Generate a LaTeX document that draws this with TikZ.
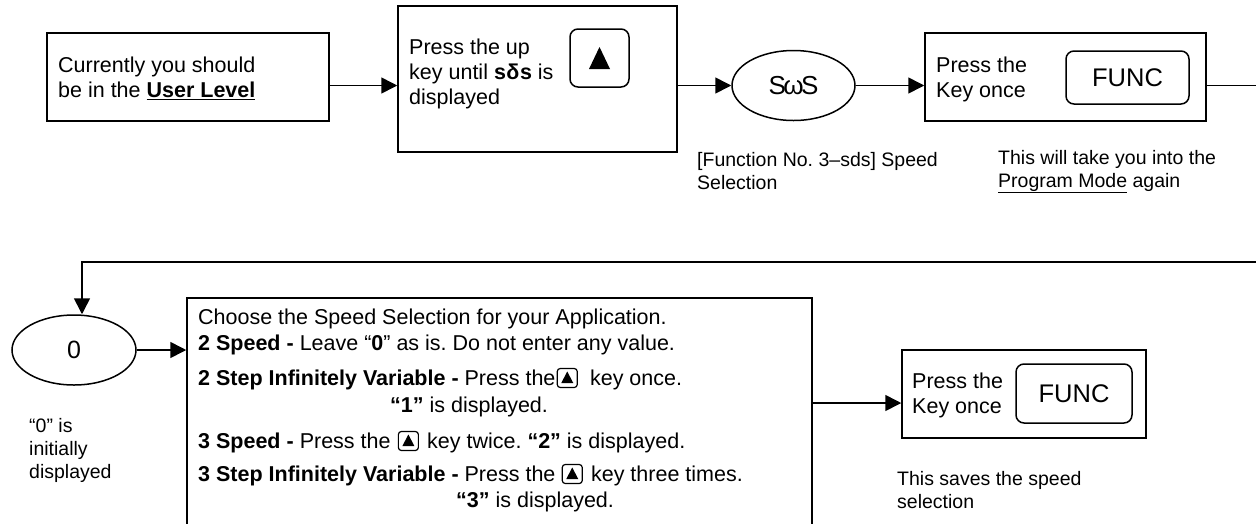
\documentclass[tikz,border=0pt]{standalone}
\usepackage{fontspec}
\setmainfont{Liberation Sans}
\frenchspacing
\usetikzlibrary{arrows.meta,positioning,shapes.geometric}
\tikzset{
  box/.style={draw, line width=1.5pt, inner sep=0pt},
  txt/.style={align=left, inner sep=0pt, font=\fontsize{21.5}{25}\selectfont},
  captxt/.style={align=left, inner sep=0pt, font=\fontsize{19.5}{23}\selectfont},
  oval/.style={draw, ellipse, line width=1.5pt, inner sep=0pt},
  conn/.style={line width=1.6pt},
  arr/.style={conn, -{Triangle[length=16pt,width=16pt]}},
  keybig/.style={draw, line width=1.5pt, rounded corners=8pt, inner sep=0pt},
  keysmall/.style={draw, line width=1.2pt, rounded corners=3pt, minimum width=20pt, minimum height=19pt, inner sep=0pt,
    path picture={\fill[sharp corners] ([shift={(-6,5)}]path picture bounding box.center) -- ([shift={(6,5)}]path picture bounding box.center) -- ([shift={(0,-6.5)}]path picture bounding box.center) -- cycle;}},
}
\begin{document}
\begin{tikzpicture}[x=1pt,y=-1pt]
\useasboundingbox (0,0) rectangle (1256,523);
\clip (0,0) rectangle (1256,523);

% ---------- top row ----------
\node[box, minimum width=282pt, minimum height=88pt] (b1) at (188,77) {};
\node[txt, anchor=west] (t1) at (58,78) {Currently you should\\be in the \underline{\textbf{User Level}}};

\node[box, minimum width=279pt, minimum height=146pt] (b2) at (537.5,79) {};
\node[txt, anchor=west] (t2) at (409,74) {Press the up\\key until \textbf{s\kern0.5ptδ\kern0.5pts} is\\displayed};
\node[keybig, minimum width=59pt, minimum height=58pt] (k0) at (599.5,58) {};
\fill ([shift={(-10.5,11)}]k0.center) -- ([shift={(10.5,11)}]k0.center) -- ([shift={(0,-11)}]k0.center) -- cycle;

\node[oval, minimum width=123pt, minimum height=70pt, font=\fontsize{26}{30}\selectfont] (e1) at (793.5,85.5) {S\kern-2.5ptω\kern-2.5ptS};

\node[box, minimum width=281pt, minimum height=88pt] (b3) at (1065.5,77) {};
\node[txt, anchor=west] (t3) at (936,79) {Press the\\Key once};
\node[keybig, minimum width=123pt, minimum height=53pt, font=\fontsize{25.5}{30}\selectfont] (f1) at (1127.5,77.5) {FUNC};

\node[captxt, anchor=west] (c1) at (697,171.5) {[Function No. 3–sds] Speed\\Selection};
\node[captxt, anchor=west] (c2) at (998,171.5) {This will take you into the\\\underline{Program Mode} again};

\coordinate (rtop) at (1256,0);
\draw[arr] (b1.east |- e1) -- (b2.west |- e1);
\draw[arr] (b2.east |- e1) -- (e1.west);
\draw[arr] (e1.east) -- (b3.west |- e1);
\draw[conn] (b3.east |- e1) -- (e1 -| rtop);

% ---------- bottom row ----------
\coordinate (rbot) at (1256,262);
\coordinate (lcorner) at (82,262);
\node[oval, minimum width=124pt, minimum height=70pt, font=\fontsize{25}{30}\selectfont] (e0) at (74,350) {0};
\draw[arr] (rbot) -- (lcorner) -- (lcorner |- e0.north);

\node[captxt, anchor=west] (c0) at (29,450) {“0” is\\initially\\displayed};

\node[box, minimum width=625pt, minimum height=262pt] (big) at (499.5,429) {};
\draw[arr] (e0.east) -- (big.west |- e0);

\node[txt, anchor=base west] (l1) at (198,324.5) {Choose the Speed Selection for your Application.};
\node[txt, anchor=base west] (l2) at (198,350.5) {\textbf{2 Speed -} Leave “\textbf{0}” as is. Do not enter any value.};
\node[txt, anchor=base west] (l3a) at (198,385.5) {\textbf{2 Step Infinitely Variable -} Press the};
\node[keysmall, anchor=west] (k1) at ([shift={(1,-7.5)}]l3a.base east) {};
\node[txt, anchor=base west] (l3b) at ([xshift=12pt]k1.east |- l3a.base) {key once.};
\node[txt, anchor=base west] (l4) at (390,412.5) {\textbf{“1”} is displayed.};
\node[txt, anchor=base west] (l5a) at (198,448.5) {\textbf{3 Speed -} Press the};
\node[keysmall, anchor=west] (k2) at ([shift={(7,-7.5)}]l5a.base east) {};
\node[txt, anchor=base west] (l5b) at ([xshift=8pt]k2.east |- l5a.base) {key twice. \textbf{“2”} is displayed.};
\node[txt, anchor=base west] (l6a) at (198,481.5) {\textbf{3 Step Infinitely Variable -} Press the};
\node[keysmall, anchor=west] (k3) at ([shift={(6,-7.5)}]l6a.base east) {};
\node[txt, anchor=base west] (l6b) at ([xshift=8pt]k3.east |- l6a.base) {key three times.};
\node[txt, anchor=base west] (l7) at (456,507.5) {\textbf{“3”} is displayed.};

\node[box, minimum width=244pt, minimum height=88pt] (b4) at (1024,394) {};
\node[txt, anchor=west] (t4) at (912,395) {Press the\\Key once};
\node[keybig, minimum width=116pt, minimum height=59pt, font=\fontsize{25.5}{30}\selectfont] (f2) at (1074,393.5) {FUNC};
\coordinate (mid) at (0,403);
\draw[arr] (big.east |- mid) -- (b4.west |- mid);

\node[captxt, anchor=west] (c4) at (897,490) {This saves the speed\\selection};
\end{tikzpicture}
\end{document}
